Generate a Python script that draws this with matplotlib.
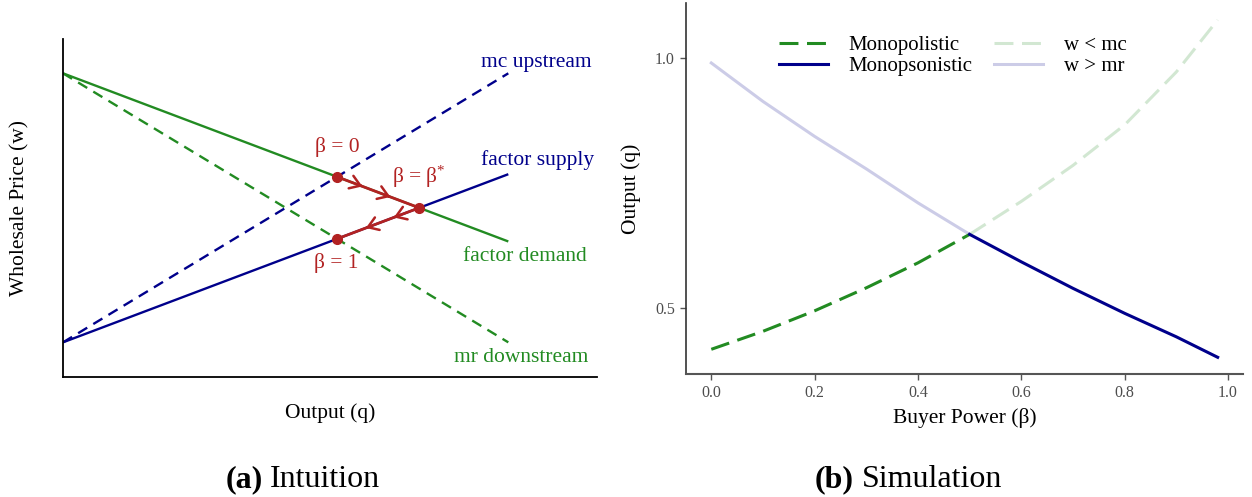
import numpy as np
import matplotlib
matplotlib.use("Agg")
import matplotlib.pyplot as plt

plt.rcParams['font.family'] = ['Liberation Serif', 'DejaVu Serif']
plt.rcParams['mathtext.fontset'] = 'custom'
plt.rcParams['mathtext.rm'] = 'Liberation Serif'
plt.rcParams['mathtext.it'] = 'Liberation Serif:italic'

# ---------------- data: panel (a) ----------------
q_ends = [0.0, 1.0]
factor_demand = [1.0, 0.375]
mr_downstream = [1.0, 0.0]
mc_upstream = [0.0, 1.0]
factor_supply = [0.0, 0.625]

# ---------------- data: panel (b) ----------------
beta = [0.0, 0.1, 0.2, 0.3, 0.4, 0.5, 0.6, 0.7, 0.8, 0.9, 0.98]
q_monopolistic = [0.417, 0.453, 0.494, 0.540, 0.590, 0.647, 0.713, 0.785, 0.866, 0.972, 1.076]
q_monopsonistic = [0.990, 0.913, 0.843, 0.778, 0.710, 0.647, 0.592, 0.539, 0.489, 0.442, 0.401]
beta_switch = 0.5
xticks_b = [0.0, 0.2, 0.4, 0.6, 0.8, 1.0]
yticks_b = [0.5, 1.0]

GREEN = '#228B22'
BLUE = '#00008B'
RED = '#B22222'

fig = plt.figure(figsize=(12.52, 4.97), dpi=100)

# ================= panel (a) =================
axA = fig.add_axes([0.0503, 0.2408, 0.4263, 0.6807])


def intersect(l1, l2):
    x0, x1 = q_ends
    a1 = (l1[1] - l1[0]) / (x1 - x0)
    a2 = (l2[1] - l2[0]) / (x1 - x0)
    x = x0 + (l2[0] - l1[0]) / (a1 - a2)
    return x, l1[0] + a1 * (x - x0)


lwA = 1.7
axA.plot(q_ends, factor_demand, color=GREEN, lw=lwA, solid_capstyle='butt')
axA.plot(q_ends, mr_downstream, color=GREEN, lw=lwA, dashes=(4.5, 3))
axA.plot(q_ends, mc_upstream, color=BLUE, lw=lwA, dashes=(4.5, 3))
axA.plot(q_ends, factor_supply, color=BLUE, lw=lwA, solid_capstyle='butt')

p0 = np.array(intersect(factor_demand, mc_upstream))
ps = np.array(intersect(factor_demand, factor_supply))
p1 = np.array(intersect(factor_supply, mr_downstream))

axA.plot([p0[0], ps[0], p1[0]], [p0[1], ps[1], p1[1]], color=RED, lw=2.0,
         solid_capstyle='round', zorder=4)
for a, b in [(p0, ps), (ps, p1)]:
    d = b - a
    for f in (0.31, 0.65):
        tip = a + f * d
        axA.annotate('', xy=tip, xytext=tip - 0.02 * d,
                     arrowprops=dict(arrowstyle='->,head_length=0.6,head_width=0.4',
                                     color=RED, lw=1.8, shrinkA=0, shrinkB=0,
                                     mutation_scale=12), zorder=5)
axA.plot([p0[0], ps[0], p1[0]], [p0[1], ps[1], p1[1]], 'o', color=RED, ms=7, zorder=6)

fsA = 15.5
axA.text(1.062, 1.039, 'mc upstream', color=BLUE, fontsize=fsA, ha='center', va='center')
axA.text(1.0656, 0.678, 'factor supply', color=BLUE, fontsize=fsA, ha='center', va='center')
axA.text(1.038, 0.318, 'factor demand', color=GREEN, fontsize=fsA, ha='center', va='center')
axA.text(1.0285, -0.057, 'mr downstream', color=GREEN, fontsize=fsA, ha='center', va='center')
axA.text(0.6164, 0.727, 'β = 0', color=RED, fontsize=fsA, ha='center', va='center')
axA.text(0.7995, 0.616, r'β = β$^{*}$', color=RED, fontsize=fsA, ha='center', va='center')
axA.text(0.613, 0.294, 'β = 1', color=RED, fontsize=fsA, ha='center', va='center')

axA.set_xlim(0, 1.1985)
axA.set_ylim(-0.130, 1.1275)
axA.set_xticks([])
axA.set_yticks([])
for s in ['top', 'right']:
    axA.spines[s].set_visible(False)
for s in ['left', 'bottom']:
    axA.spines[s].set_linewidth(1.3)
    axA.spines[s].set_color('black')
axA.set_xlabel('Output (q)', fontsize=15.5, va='center')
axA.xaxis.set_label_coords(0.5, -0.1055)
axA.set_ylabel('Wholesale Price (w)', fontsize=15.5, va='center')
axA.yaxis.set_label_coords(-0.0806, 0.5)

# ================= panel (b) =================
axB = fig.add_axes([0.5479, 0.2469, 0.4449, 0.7471])
b = np.array(beta)
qm = np.array(q_monopolistic)
qs = np.array(q_monopsonistic)
lo = b <= beta_switch
hi = b >= beta_switch

lwB = 2.2
dsh = (6.2, 2.8)
axB.plot(b[hi], qm[hi], color=GREEN, alpha=0.2, lw=lwB, dashes=dsh, label='w < mc', zorder=2)
axB.plot(b[lo], qs[lo], color=BLUE, alpha=0.2, lw=lwB, label='w > mr', zorder=2)
axB.plot(b[lo], qm[lo], color=GREEN, lw=lwB, dashes=dsh, label='Monopolistic', zorder=3)
axB.plot(b[hi], qs[hi], color=BLUE, lw=lwB, label='Monopsonistic', zorder=3)

handles, labels = axB.get_legend_handles_labels()
order = [2, 3, 0, 1]
axB.legend([handles[i] for i in order], [labels[i] for i in order], ncol=2,
           frameon=False, fontsize=15, loc='upper left', bbox_to_anchor=(0.167, 0.912),
           borderaxespad=0, borderpad=0, handlelength=2.35, handletextpad=1.0,
           columnspacing=1.04, labelspacing=0.08)

axB.set_xlim(-0.049, 1.029)
axB.set_ylim(0.367, 1.110)
axB.set_xticks(xticks_b)
axB.set_xticklabels([f'{v:.1f}' for v in xticks_b])
axB.set_yticks(yticks_b)
axB.set_yticklabels([f'{v:.1f}' for v in yticks_b])
for s in ['top', 'right']:
    axB.spines[s].set_visible(False)
axB.spines['left'].set_color('#333333')
axB.spines['bottom'].set_color('#555555')
axB.spines['left'].set_linewidth(1.2)
axB.spines['bottom'].set_linewidth(1.5)
axB.tick_params(axis='both', direction='out', length=4, width=1.0, color='#555555',
                labelcolor='#4D4D4D', labelsize=11.5, pad=4)
axB.set_xlabel('Buyer Power (β)', fontsize=15.5, va='center')
axB.xaxis.set_label_coords(0.5, -0.1177)
axB.set_ylabel('Output (q)', fontsize=15.5, va='center')
axB.yaxis.set_label_coords(-0.0987, 0.5)

# ================= captions =================
W, H = 1252.0, 497.0
ybase = (H - 487) / H
fig.text(262.7 / W, ybase, '(a)', fontsize=23, fontweight='bold', ha='right', va='baseline')
fig.text(269.8 / W, ybase, 'Intuition', fontsize=23, ha='left', va='baseline')
fig.text(854.0 / W, ybase, '(b)', fontsize=23, fontweight='bold', ha='right', va='baseline')
fig.text(862.0 / W, ybase, 'Simulation', fontsize=23, ha='left', va='baseline')

fig.savefig('out.png', dpi=100)
